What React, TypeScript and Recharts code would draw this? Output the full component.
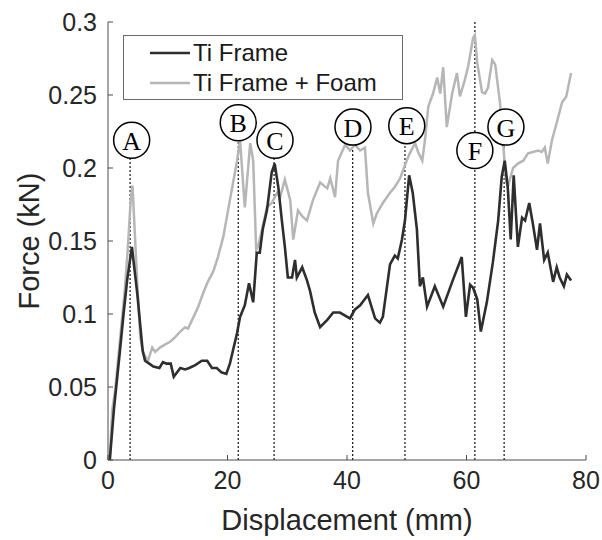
import React from "react";
import {
  LineChart,
  Line,
  XAxis,
  YAxis,
  ReferenceLine,
  ReferenceDot,
  Legend,
} from "recharts";

// Ti Frame (dark curve)
const tiFrameDisp = [
  0.3, 1.0, 2.0, 2.6, 3.2, 4.0, 4.9, 5.8, 6.2, 6.9, 7.6, 8.6, 9.2, 9.8, 10.5,
  11.0, 12.1, 12.9, 13.6, 14.6, 15.7, 16.6, 17.4, 18.2, 19.0, 19.8, 20.4, 21.6,
  22.1, 22.9, 23.6, 24.3, 24.9, 25.4, 25.9, 26.6, 27.4, 27.9, 28.5, 29.1, 29.6,
  30.1, 30.8, 31.3, 31.6, 32.5, 33.3, 33.8, 34.6, 35.5, 36.7, 37.7, 38.8, 40.5,
  41.3, 42.2, 43.5, 44.7, 45.5, 46.0, 47.2, 48.0, 48.5, 49.2, 49.7, 50.4, 51.0,
  51.7, 52.2, 52.7, 53.4, 54.7, 56.1, 57.7, 59.2, 59.9, 60.6, 61.1, 61.8, 62.4,
  63.4, 64.4, 65.3, 65.9, 66.4, 66.9, 67.4, 67.9, 68.6, 69.3, 69.8, 70.5, 71.1,
  71.8, 72.3, 73.0, 73.6, 74.5, 75.1, 75.6, 76.3, 76.8, 77.5,
];
const tiFrameForce = [
  0, 0.035, 0.075, 0.1, 0.123, 0.146, 0.114, 0.075, 0.068, 0.066, 0.064, 0.063,
  0.067, 0.066, 0.066, 0.057, 0.063, 0.062, 0.063, 0.065, 0.068, 0.068, 0.063,
  0.063, 0.06, 0.059, 0.066, 0.087, 0.098, 0.106, 0.121, 0.108, 0.142, 0.142,
  0.158, 0.171, 0.197, 0.203, 0.187, 0.164, 0.146, 0.125, 0.125, 0.137, 0.125,
  0.132, 0.123, 0.116, 0.101, 0.091, 0.096, 0.101, 0.101, 0.097, 0.103, 0.106,
  0.113, 0.097, 0.094, 0.098, 0.134, 0.14, 0.138, 0.151, 0.164, 0.195, 0.183,
  0.158, 0.119, 0.125, 0.105, 0.119, 0.105, 0.123, 0.139, 0.098, 0.12, 0.118,
  0.11, 0.088, 0.108, 0.135, 0.164, 0.194, 0.205, 0.187, 0.151, 0.195, 0.146,
  0.166, 0.164, 0.176, 0.162, 0.144, 0.162, 0.137, 0.142, 0.122, 0.132, 0.125,
  0.119, 0.127, 0.123,
];

// Ti Frame + Foam (light curve)
const foamDisp = [
  0.3, 0.7, 1.2, 2.0, 2.8, 3.3, 3.8, 4.1, 4.9, 5.4, 5.9, 6.7, 7.4, 7.9, 8.7,
  9.5, 10.4, 11.2, 12.1, 12.9, 13.4, 14.2, 15.1, 15.9, 16.7, 17.6, 18.4, 19.3,
  20.4, 21.6, 22.1, 22.9, 23.8, 24.3, 24.8, 25.1, 25.9, 26.6, 27.4, 28.3, 28.8,
  29.6, 30.5, 31.0, 31.8, 32.5, 33.3, 34.3, 35.5, 36.7, 37.2, 38.0, 38.5, 39.7,
  40.5, 41.3, 42.2, 43.0, 43.5, 44.4, 45.0, 46.0, 47.2, 48.0, 48.9, 49.7, 50.5,
  51.4, 51.9, 52.6, 53.1, 53.6, 54.4, 55.1, 55.6, 56.1, 56.7, 57.6, 58.4, 58.9,
  59.7, 60.3, 61.1, 61.4, 61.8, 62.6, 63.1, 63.6, 64.3, 64.8, 65.6, 66.1, 66.6,
  66.9, 67.8, 68.6, 69.5, 70.3, 71.1, 72.0, 72.6, 73.1, 73.6, 74.3, 75.1, 76.0,
  76.7, 77.5,
];
const foamForce = [
  0, 0.034, 0.048, 0.082, 0.116, 0.144, 0.178, 0.188, 0.121, 0.084, 0.073,
  0.068, 0.077, 0.074, 0.077, 0.079, 0.081, 0.084, 0.088, 0.091, 0.09, 0.097,
  0.105, 0.114, 0.122, 0.129, 0.139, 0.153, 0.178, 0.205, 0.219, 0.173, 0.217,
  0.205, 0.144, 0.146, 0.16, 0.173, 0.176, 0.183, 0.18, 0.192, 0.178, 0.151,
  0.171, 0.167, 0.164, 0.178, 0.19, 0.186, 0.193, 0.18, 0.205, 0.216, 0.212,
  0.216, 0.212, 0.214, 0.183, 0.162, 0.169, 0.176, 0.183, 0.187, 0.193, 0.202,
  0.21, 0.217, 0.211, 0.205, 0.221, 0.242, 0.251, 0.262, 0.251, 0.269, 0.228,
  0.251, 0.265, 0.249, 0.26, 0.27, 0.289, 0.291, 0.272, 0.252, 0.251, 0.255,
  0.274, 0.271, 0.245, 0.219, 0.192, 0.187, 0.2, 0.203, 0.205, 0.21, 0.211,
  0.212, 0.211, 0.214, 0.203, 0.219, 0.231, 0.245, 0.249, 0.265,
];

const xTicks = [0, 20, 40, 60, 80];
const yTicks = [0, 0.05, 0.1, 0.15, 0.2, 0.25, 0.3];

// event markers A-G
const markerNames = ["A", "B", "C", "D", "E", "F", "G"];
const markerLineDisp = [3.7, 21.8, 27.8, 40.95, 49.7, 61.4, 66.3];
const markerLineTop = [0.219, 0.231, 0.219, 0.228, 0.229, 0.3, 0.228];
const markerCircleDisp = [3.96, 21.8, 27.95, 41.0, 50.0, 61.4, 66.6];
const markerCircleForce = [0.219, 0.231, 0.219, 0.228, 0.229, 0.212, 0.228];

const tiFrame = tiFrameDisp.map((x, i) => ({ x, y: tiFrameForce[i] }));
const foam = foamDisp.map((x, i) => ({ x, y: foamForce[i] }));

const DARK = "#2e2e2e";
const LIGHT = "#b6b6b6";
const AXIS = "#4a4a4a";
const FONT = "Arial, 'Liberation Sans', Helvetica, sans-serif";
const tickStyle = { fill: "#262626", fontSize: 25, fontFamily: FONT };

const XTitle = (props: any) => {
  const { x, width } = props.viewBox;
  return (
    <text
      x={x + width / 2}
      y={530}
      textAnchor="middle"
      fill="#262626"
      fontSize={29}
      fontFamily={FONT}
    >
      Displacement (mm)
    </text>
  );
};

const YTitle = (props: any) => {
  const { x, y, height } = props.viewBox;
  const cx = x + 29;
  const cy = y + height / 2;
  return (
    <text
      x={cx}
      y={cy}
      transform={`rotate(-90, ${cx}, ${cy})`}
      textAnchor="middle"
      dominantBaseline="central"
      fill="#262626"
      fontSize={29}
      fontFamily={FONT}
    >
      Force (kN)
    </text>
  );
};

const LegendBox = () => (
  <div
    style={{
      border: "1px solid #6a6a6a",
      background: "#fff",
      width: 280,
      height: 65,
      boxSizing: "border-box",
      fontFamily: FONT,
      fontSize: 24,
      color: "#1a1a1a",
      paddingLeft: 26,
      paddingTop: 2,
      lineHeight: "30px",
    }}
  >
    {[
      { name: "Ti Frame", color: DARK },
      { name: "Ti Frame + Foam", color: LIGHT },
    ].map((it) => (
      <div key={it.name} style={{ display: "flex", alignItems: "center" }}>
        <svg width={40} height={10} style={{ marginRight: 3 }}>
          <line x1={0} y1={5} x2={40} y2={5} stroke={it.color} strokeWidth={2.5} />
        </svg>
        <span>{it.name}</span>
      </div>
    ))}
  </div>
);

const MarkerShape = (name: string) => (props: any) => (
  <g>
    <circle
      cx={props.cx}
      cy={props.cy}
      r={18}
      fill="#fff"
      stroke="#000"
      strokeWidth={1.5}
    />
    <text
      x={props.cx}
      y={props.cy + 1}
      textAnchor="middle"
      dominantBaseline="central"
      fontFamily="'Liberation Serif', 'Times New Roman', serif"
      fontSize={26}
      fill="#000"
    >
      {name}
    </text>
  </g>
);

export default function App() {
  return (
    <div
      style={{
        position: "absolute",
        left: 0,
        top: 0,
        width: 602,
        height: 540,
        background: "#fff",
      }}
    >
      <LineChart
        width={602}
        height={540}
        margin={{ top: 22, right: 16, bottom: 0, left: 0 }}
      >
        <XAxis
          type="number"
          dataKey="x"
          domain={[0, 80]}
          ticks={xTicks}
          allowDataOverflow
          height={80}
          tickSize={-5}
          tickMargin={16}
          stroke={AXIS}
          tick={tickStyle}
          label={{ content: XTitle }}
        />
        <XAxis
          xAxisId="top"
          orientation="top"
          type="number"
          dataKey="x"
          domain={[0, 80]}
          ticks={xTicks}
          allowDataOverflow
          height={0}
          tickSize={-5}
          tick={false}
          stroke={AXIS}
        />
        <YAxis
          type="number"
          domain={[0, 0.3]}
          ticks={yTicks}
          allowDataOverflow
          width={108}
          tickSize={-5}
          tickMargin={16}
          stroke={AXIS}
          tick={tickStyle}
          label={{ content: YTitle }}
        />
        <YAxis
          yAxisId="right"
          orientation="right"
          type="number"
          domain={[0, 0.3]}
          ticks={yTicks}
          allowDataOverflow
          width={0}
          tickSize={-5}
          tick={false}
          stroke={AXIS}
        />
        <Legend
          verticalAlign="middle"
          align="center"
          layout="vertical"
          content={LegendBox}
          wrapperStyle={{ left: 123, top: 35, width: 280, height: 65 }}
        />
        {markerNames.map((n, i) => (
          <ReferenceLine
            key={`l${n}`}
            segment={[
              { x: markerLineDisp[i], y: 0 },
              { x: markerLineDisp[i], y: markerLineTop[i] },
            ]}
            stroke="#111"
            strokeWidth={1.2}
            strokeDasharray="2 2"
          />
        ))}
        <Line
          data={foam}
          dataKey="y"
          name="Ti Frame + Foam"
          stroke={LIGHT}
          strokeWidth={2.5}
          dot={false}
          type="linear"
          isAnimationActive={false}
        />
        <Line
          data={tiFrame}
          dataKey="y"
          name="Ti Frame"
          stroke={DARK}
          strokeWidth={2.6}
          dot={false}
          type="linear"
          isAnimationActive={false}
        />
        {markerNames.map((n, i) => (
          <ReferenceDot
            key={`d${n}`}
            x={markerCircleDisp[i]}
            y={markerCircleForce[i]}
            shape={MarkerShape(n)}
          />
        ))}
      </LineChart>
    </div>
  );
}
